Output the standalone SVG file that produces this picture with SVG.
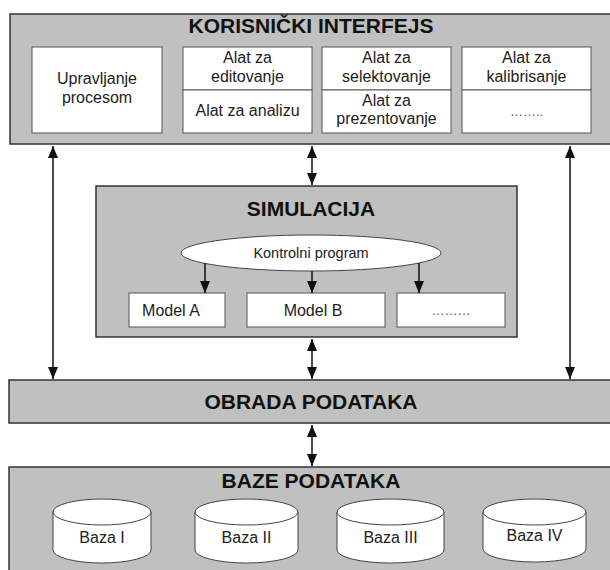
<svg xmlns="http://www.w3.org/2000/svg" width="610" height="570" viewBox="0 0 610 570">
<defs>
<style>
.panel{fill:#c0c0c0;stroke:#333;stroke-width:1.5}
.box{fill:#fff;stroke:#555;stroke-width:1}
.title{font-family:"Liberation Sans",Arial,sans-serif;font-size:21px;font-weight:bold;fill:#111;text-anchor:middle}
.t{font-family:"Liberation Sans",Arial,sans-serif;font-size:16px;fill:#222;text-anchor:middle}
.ts{font-family:"Liberation Sans",Arial,sans-serif;font-size:14.5px;fill:#222;text-anchor:middle}
.dots{font-family:"Liberation Sans",Arial,sans-serif;font-size:13px;fill:#555;text-anchor:middle}
.conn{stroke:#111;stroke-width:1.5;fill:none}
.cyl{fill:#fff;stroke:#444;stroke-width:1}
</style>
<marker id="ah" viewBox="0 0 12 10" refX="12" refY="5" markerWidth="12" markerHeight="10" markerUnits="userSpaceOnUse" orient="auto-start-reverse">
<path d="M0,0 L12,5 L0,10 Z" fill="#111"/>
</marker>
</defs>

<g id="korisnicki-interfejs">
<rect class="panel" x="10" y="14" width="610" height="130"/>
<text class="title" x="311" y="33">KORISNIČKI INTERFEJS</text>
<g id="upravljanje">
<rect class="box" x="32" y="47" width="130" height="86"/>
<text class="t" x="97" y="84">Upravljanje</text>
<text class="t" x="97" y="103">procesom</text>
</g>
<g id="alat-editovanje">
<rect class="box" x="183" y="47" width="129" height="43"/>
<text class="t" x="247.5" y="63">Alat za</text>
<text class="t" x="247.5" y="82">editovanje</text>
</g>
<g id="alat-analizu">
<rect class="box" x="183" y="90" width="129" height="43"/>
<text class="t" x="247.5" y="116">Alat za analizu</text>
</g>
<g id="alat-selektovanje">
<rect class="box" x="322" y="47" width="129" height="43"/>
<text class="t" x="386.5" y="63">Alat za</text>
<text class="t" x="386.5" y="82">selektovanje</text>
</g>
<g id="alat-prezentovanje">
<rect class="box" x="322" y="90" width="129" height="43"/>
<text class="t" x="386.5" y="106">Alat za</text>
<text class="t" x="386.5" y="124">prezentovanje</text>
</g>
<g id="alat-kalibrisanje">
<rect class="box" x="462" y="47" width="129" height="43"/>
<text class="t" x="526.5" y="63">Alat za</text>
<text class="t" x="526.5" y="82">kalibrisanje</text>
</g>
<g id="alat-ostalo">
<rect class="box" x="462" y="90" width="129" height="43"/>
<text class="dots" x="526.5" y="116">……..</text>
</g>
</g>

<g id="simulacija">
<rect class="panel" x="96" y="186" width="421" height="151"/>
<text class="title" x="311" y="216">SIMULACIJA</text>
<g id="kontrolni-program">
<ellipse cx="311" cy="253" rx="130" ry="18" fill="#fff" stroke="#444" stroke-width="1"/>
<text class="ts" x="311" y="258">Kontrolni program</text>
</g>
<g id="model-a">
<rect class="box" x="129" y="293" width="96" height="34"/>
<text class="t" x="171" y="316">Model A</text>
</g>
<g id="model-b">
<rect class="box" x="247" y="293" width="138" height="34"/>
<text class="t" x="313" y="316">Model B</text>
</g>
<g id="model-ostalo">
<rect class="box" x="397" y="293" width="108" height="34"/>
<text class="dots" x="451" y="315">………</text>
</g>
</g>

<g id="obrada-podataka">
<rect class="panel" x="9" y="380" width="611" height="43"/>
<text class="title" x="311" y="409">OBRADA PODATAKA</text>
</g>

<g id="baze-podataka">
<rect class="panel" x="9" y="467" width="611" height="110"/>
<text class="title" x="311" y="488">BAZE PODATAKA</text>
<g id="baza-1">
<path class="cyl" d="M53,512 L53,550 A49,13 0 0 0 151,550 L151,512 A49,13 0 0 0 53,512 Z"/>
<path class="cyl" d="M53,512 A49,13 0 0 0 151,512" fill="none"/>
<text class="t" x="102" y="543">Baza I</text>
</g>
<g id="baza-2">
<path class="cyl" d="M195,512 L195,550 A51.5,13 0 0 0 298,550 L298,512 A51.5,13 0 0 0 195,512 Z"/>
<path class="cyl" d="M195,512 A51.5,13 0 0 0 298,512" fill="none"/>
<text class="t" x="246.5" y="543">Baza II</text>
</g>
<g id="baza-3">
<path class="cyl" d="M337,512 L337,550 A53.5,13 0 0 0 444,550 L444,512 A53.5,13 0 0 0 337,512 Z"/>
<path class="cyl" d="M337,512 A53.5,13 0 0 0 444,512" fill="none"/>
<text class="t" x="390.5" y="543">Baza III</text>
</g>
<g id="baza-4">
<path class="cyl" d="M483,512 L483,549 A51.5,13 0 0 0 586,549 L586,512 A51.5,13 0 0 0 483,512 Z"/>
<path class="cyl" d="M483,512 A51.5,13 0 0 0 586,512" fill="none"/>
<text class="t" x="534.5" y="541">Baza IV</text>
</g>
</g>

<g id="connectors">
<line class="conn" x1="53" y1="146" x2="53" y2="379" marker-start="url(#ah)" marker-end="url(#ah)"/>
<line class="conn" x1="570" y1="146" x2="570" y2="379" marker-start="url(#ah)" marker-end="url(#ah)"/>
<line class="conn" x1="312" y1="146" x2="312" y2="185" marker-start="url(#ah)" marker-end="url(#ah)"/>
<line class="conn" x1="312" y1="339" x2="312" y2="379" marker-start="url(#ah)" marker-end="url(#ah)"/>
<line class="conn" x1="312" y1="425" x2="312" y2="466" marker-start="url(#ah)" marker-end="url(#ah)"/>
<line class="conn" x1="205" y1="263" x2="205" y2="293" marker-end="url(#ah)" stroke-width="1"/>
<line class="conn" x1="312" y1="271" x2="312" y2="293" marker-end="url(#ah)" stroke-width="1"/>
<line class="conn" x1="419" y1="263" x2="419" y2="293" marker-end="url(#ah)" stroke-width="1"/>
</g>
</svg>
